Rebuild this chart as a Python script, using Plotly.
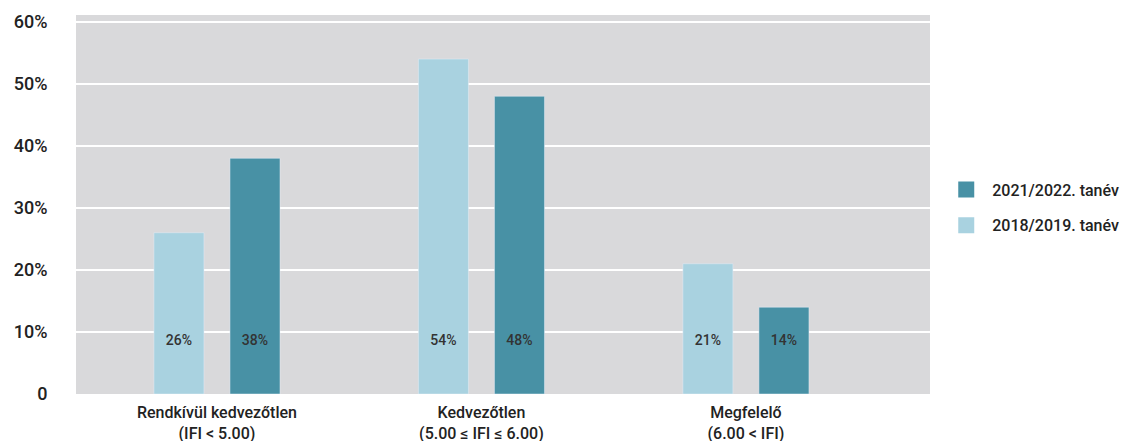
import plotly.graph_objects as go

categories = ["Rendkívül kedvezőtlen<br>(IFI < 5.00)", "Kedvezőtlen<br>(5.00 ≤ IFI ≤ 6.00)", "Megfelelő<br>(6.00 < IFI)"]
series_names = ["2018/2019. tanév", "2021/2022. tanév"]
values_2018 = [26, 54, 21]
values_2021 = [38, 48, 14]
bar_labels_2018 = ["26%", "54%", "21%"]
bar_labels_2021 = ["38%", "48%", "14%"]
y_tickvals = [0, 10, 20, 30, 40, 50, 60]
y_ticktext = ["0", "10%", "20%", "30%", "40%", "50%", "60%"]

LIGHT = "#a9d2e0"
DARK = "#4891a5"
BG = "#d9d9db"
FONT = "Roboto"
TXT = "#222222"

fig = go.Figure()
fig.add_trace(go.Bar(x=categories, y=values_2018, name=series_names[0], marker_color=LIGHT,
                     text=bar_labels_2018, textposition="none", showlegend=False, offsetgroup="a"))
fig.add_trace(go.Bar(x=categories, y=values_2021, name=series_names[1], marker_color=DARK,
                     text=bar_labels_2021, textposition="none", showlegend=False, offsetgroup="b"))

# value labels near the bar bottoms, aligned via grouped scatter
fig.add_trace(go.Scatter(x=categories, y=[8.5] * 3, mode="text", text=bar_labels_2018,
                         textfont=dict(family=FONT, size=14, color="#333333", weight=500),
                         showlegend=False, offsetgroup="a", hoverinfo="skip"))
fig.add_trace(go.Scatter(x=categories, y=[8.5] * 3, mode="text", text=bar_labels_2021,
                         textfont=dict(family=FONT, size=14, color="#333333", weight=500),
                         showlegend=False, offsetgroup="b", hoverinfo="skip"))

# legend entries
fig.add_trace(go.Scatter(x=[None], y=[None], mode="markers", name=series_names[1],
                         marker=dict(symbol="square", size=16, color=DARK), legendgroup="g1"))
fig.add_trace(go.Scatter(x=[None], y=[None], mode="markers", name=series_names[0],
                         marker=dict(symbol="square", size=16, color=LIGHT), legendgroup="g2"))

fig.update_layout(
    width=1133, height=441,
    margin=dict(l=76, r=203, t=15, b=47, autoexpand=False),
    paper_bgcolor="white", plot_bgcolor=BG,
    barmode="group", bargap=0.425, bargroupgap=0.342,
    scattermode="group", scattergap=0.425,
    font=dict(family=FONT, color=TXT),
    showlegend=True,
    legend=dict(x=1.012, y=0.492, xanchor="left", yanchor="middle",
                font=dict(family=FONT, size=16, color=TXT, weight=500),
                tracegroupgap=12, itemsizing="trace", itemwidth=42, bgcolor="rgba(0,0,0,0)"),
    xaxis=dict(range=[-0.533, 2.696], showgrid=False, zeroline=False, automargin=False,
               tickfont=dict(family=FONT, size=16, color=TXT, weight=500),
               ticks="outside", ticklen=4, tickcolor="rgba(0,0,0,0)"),
    yaxis=dict(range=[0, 61.1], tickvals=y_tickvals, ticktext=y_ticktext, automargin=False,
               showgrid=True, gridcolor="white", gridwidth=2, zeroline=False,
               tickfont=dict(family=FONT, size=18, color=TXT, weight=500),
               ticks="outside", ticklen=24, tickcolor="rgba(0,0,0,0)"),
)
fig.add_shape(type="line", xref="paper", yref="y", x0=-0.007, x1=1, y0=-0.25, y1=-0.25,
              line=dict(color="#5a5a5a", width=2), layer="above")

fig.write_html("out.html")
